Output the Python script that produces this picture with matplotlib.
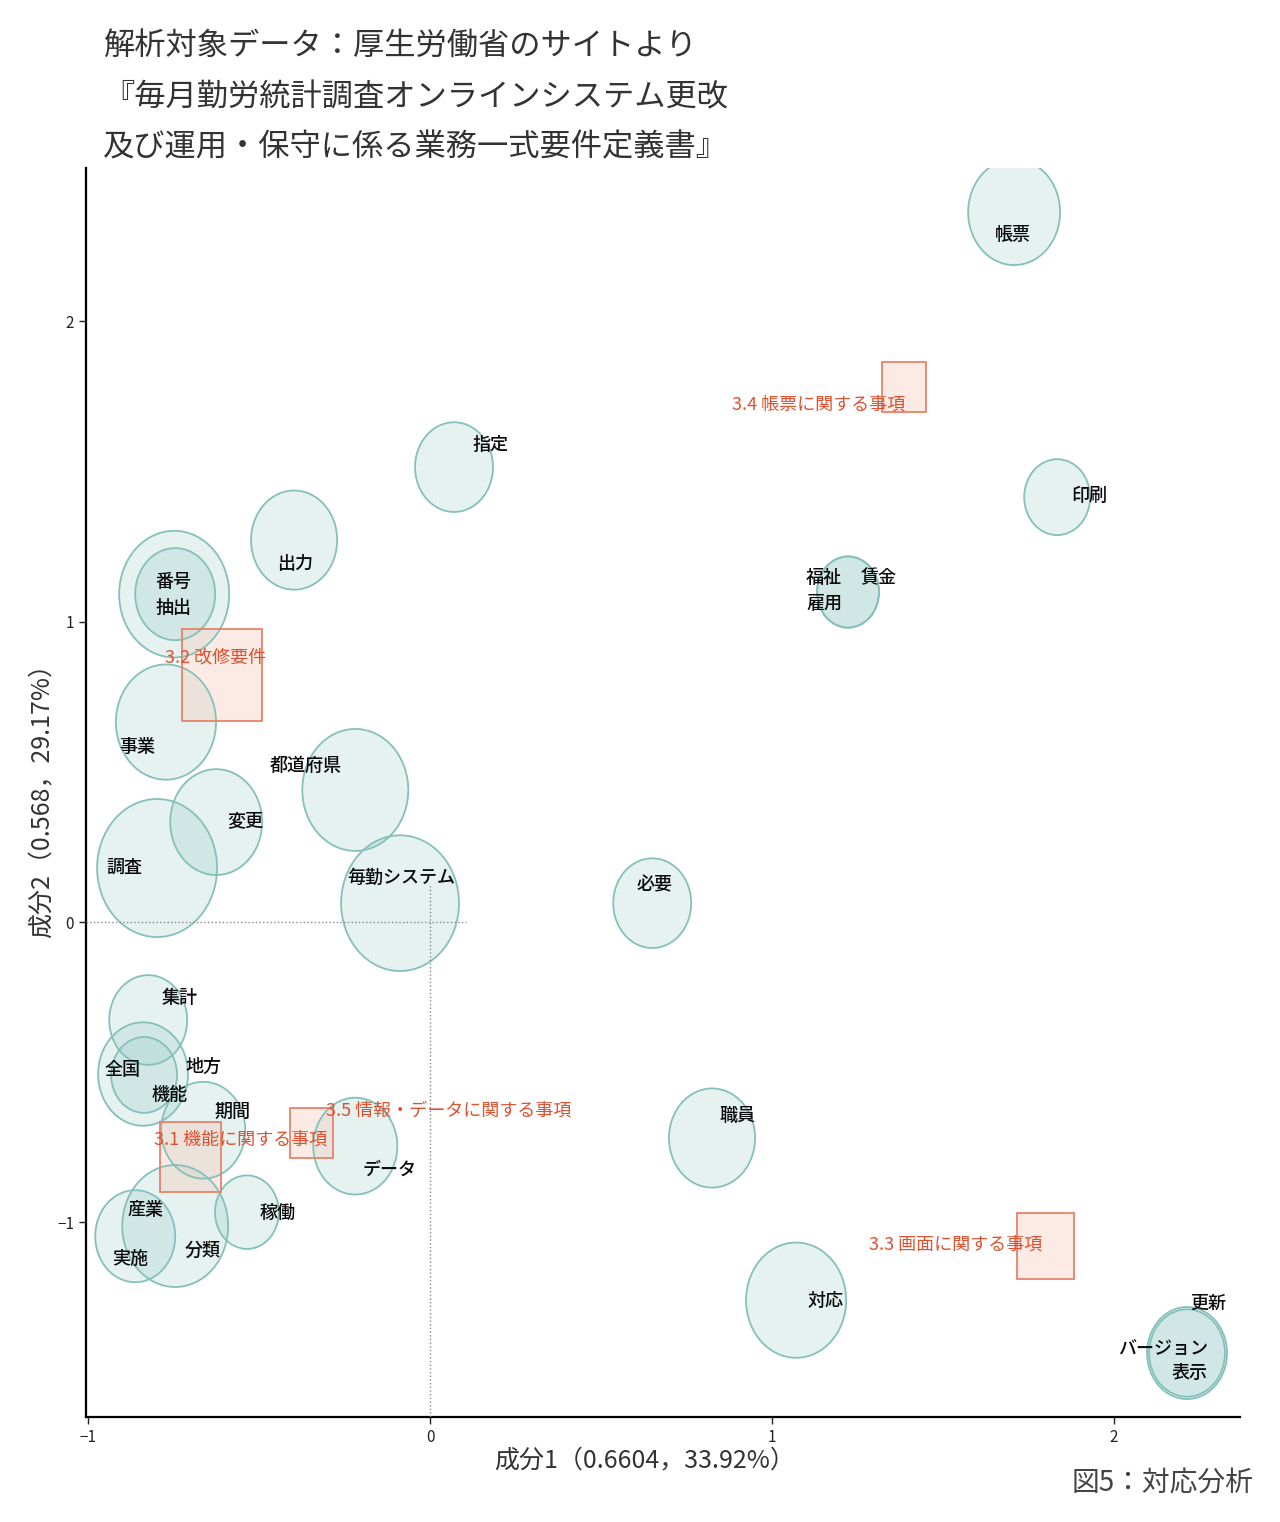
#!/usr/bin/env python3

import matplotlib
matplotlib.use('Agg')
import matplotlib.pyplot as plt
from matplotlib.patches import Ellipse, Rectangle

plt.rcParams['font.family'] = ['Noto Sans CJK JP', 'DejaVu Sans']

# bubbles (word frequency circles): centre and diameter in x units
bubble_x = [1.709, 0.070, 1.835, 1.223, 1.223, -0.398, -0.749, -0.746, -0.773,
            -0.219, -0.626, -0.799, -0.088, 0.650, -0.825, -0.840, -0.837,
            -0.664, -0.219, 0.825, -0.536, -0.746, -0.863, 1.071, 2.215, 2.215]
bubble_y = [2.364, 1.515, 1.415, 1.099, 1.099, 1.272, 1.092, 1.092, 0.666,
            0.440, 0.333, 0.180, 0.063, 0.063, -0.326, -0.506, -0.509,
            -0.693, -0.746, -0.719, -0.966, -1.012, -1.046, -1.259, -1.435, -1.435]
bubble_d = [0.269, 0.228, 0.193, 0.181, 0.181, 0.252, 0.322, 0.234, 0.293,
            0.310, 0.269, 0.351, 0.345, 0.228, 0.228, 0.263, 0.193,
            0.246, 0.246, 0.252, 0.187, 0.310, 0.234, 0.293, 0.222, 0.234]

# word labels
words = ['帳票', '指定', '印刷', '福祉', '賃金', '雇用', '出力', '番号', '抽出',
         '事業', '都道府県', '変更', '調査', '毎勤システム', '必要', '集計', '全国',
         '地方', '機能', '期間', 'データ', '職員', '稼働', '産業', '分類', '実施',
         '対応', '更新', 'バージョン', '表示']
word_x = [1.706, 0.176, 1.929, 1.153, 1.314, 1.153, -0.395, -0.752, -0.752,
          -0.857, -0.363, -0.541, -0.896, -0.085, 0.656, -0.732, -0.901,
          -0.664, -0.764, -0.579, -0.120, 0.898, -0.448, -0.834, -0.667, -0.878,
          1.156, 2.277, 2.145, 2.221]
word_y = [2.288, 1.588, 1.419, 1.146, 1.146, 1.059, 1.192, 1.132, 1.046,
          0.583, 0.519, 0.336, 0.180, 0.147, 0.123, -0.253, -0.493,
          -0.483, -0.576, -0.633, -0.826, -0.646, -0.969, -0.959, -1.096, -1.122,
          -1.262, -1.272, -1.422, -1.502]

# document sections (squares)
sections = ['3.4 帳票に関する事項', '3.2 改修要件', '3.1 機能に関する事項',
            '3.5 情報・データに関する事項', '3.3 画面に関する事項']
sec_x = [1.387, -0.609, -0.702, -0.348, 1.800]
sec_y = [1.782, 0.823, -0.783, -0.703, -1.079]
sec_d = [0.129, 0.234, 0.179, 0.126, 0.167]
sec_label_x = [1.138, -0.629, -0.556, 0.053, 1.539]
sec_label_y = [1.722, 0.882, -0.723, -0.626, -1.072]

title_lines = ['解析対象データ：厚生労働省のサイトより',
               '『毎月勤労統計調査オンラインシステム更改',
               '及び運用・保守に係る業務一式要件定義書』']
xlabel = '成分1（0.6604，33.92%）'
ylabel = '成分2（0.568，29.17%）'
caption = '図5：対応分析'

stretch = 1.31  # height/width of the marks in data units

fig = plt.figure(figsize=(12.8, 15.22), dpi=100)
ax = fig.add_axes([86 / 1280, 1 - 1417 / 1522, (1240 - 86) / 1280, (1417 - 168) / 1522])
ax.set_xlim(-1.007, 2.370)
ax.set_ylim(-1.648, 2.511)

for x, y, d in zip(bubble_x, bubble_y, bubble_d):
    ax.add_patch(Ellipse((x, y), d, d * stretch, facecolor='#8cc4bf', alpha=0.22,
                         edgecolor='none', zorder=2))
    ax.add_patch(Ellipse((x, y), d, d * stretch, facecolor='none',
                         edgecolor='#86c0ba', lw=1.3, zorder=3))

for x, y, d in zip(sec_x, sec_y, sec_d):
    ax.add_patch(Rectangle((x - d / 2, y - d * stretch / 2), d, d * stretch,
                           facecolor='#f6cdbd', alpha=0.4, edgecolor='none', zorder=2))
    ax.add_patch(Rectangle((x - d / 2, y - d * stretch / 2), d, d * stretch,
                           facecolor='none', edgecolor='#e8826c', lw=1.3, zorder=3))

ax.plot([-1.007, 0.105], [0, 0], ls=':', color='#888888', lw=1, zorder=4)
ax.plot([0, 0], [-1.648, 0.127], ls=':', color='#888888', lw=1, zorder=4)

for t, x, y in zip(words, word_x, word_y):
    ax.text(x, y, t, ha='center', va='center', fontsize=13, color='#0a0a0a',
            fontweight='medium', zorder=5)

for t, x, y in zip(sections, sec_label_x, sec_label_y):
    ax.text(x, y, t, ha='center', va='center', fontsize=13, color='#e0502f', zorder=5)

ax.spines['top'].set_visible(False)
ax.spines['right'].set_visible(False)
ax.spines['left'].set_linewidth(1.6)
ax.spines['bottom'].set_linewidth(1.6)
ax.set_xticks([-1, 0, 1, 2])
ax.set_yticks([-1, 0, 1, 2])
ax.tick_params(length=5, width=1, labelsize=11, colors='#222222')

for i, line in enumerate(title_lines):
    fig.text(103 / 1280, 1 - (47 + 50 * i) / 1522, line, ha='left', va='center',
             fontsize=22.5, color='#333333')
fig.text(645 / 1280, 1 - 1460 / 1522, xlabel, ha='center', va='center',
         fontsize=18, color='#333333')
fig.text(42 / 1280, 1 - 795 / 1522, ylabel, ha='center', va='center',
         fontsize=18, color='#333333', rotation=90)
fig.text(1253 / 1280, 1 - 1483 / 1522, caption, ha='right', va='center',
         fontsize=20, color='#444444')

fig.savefig('out.png', dpi=100)
